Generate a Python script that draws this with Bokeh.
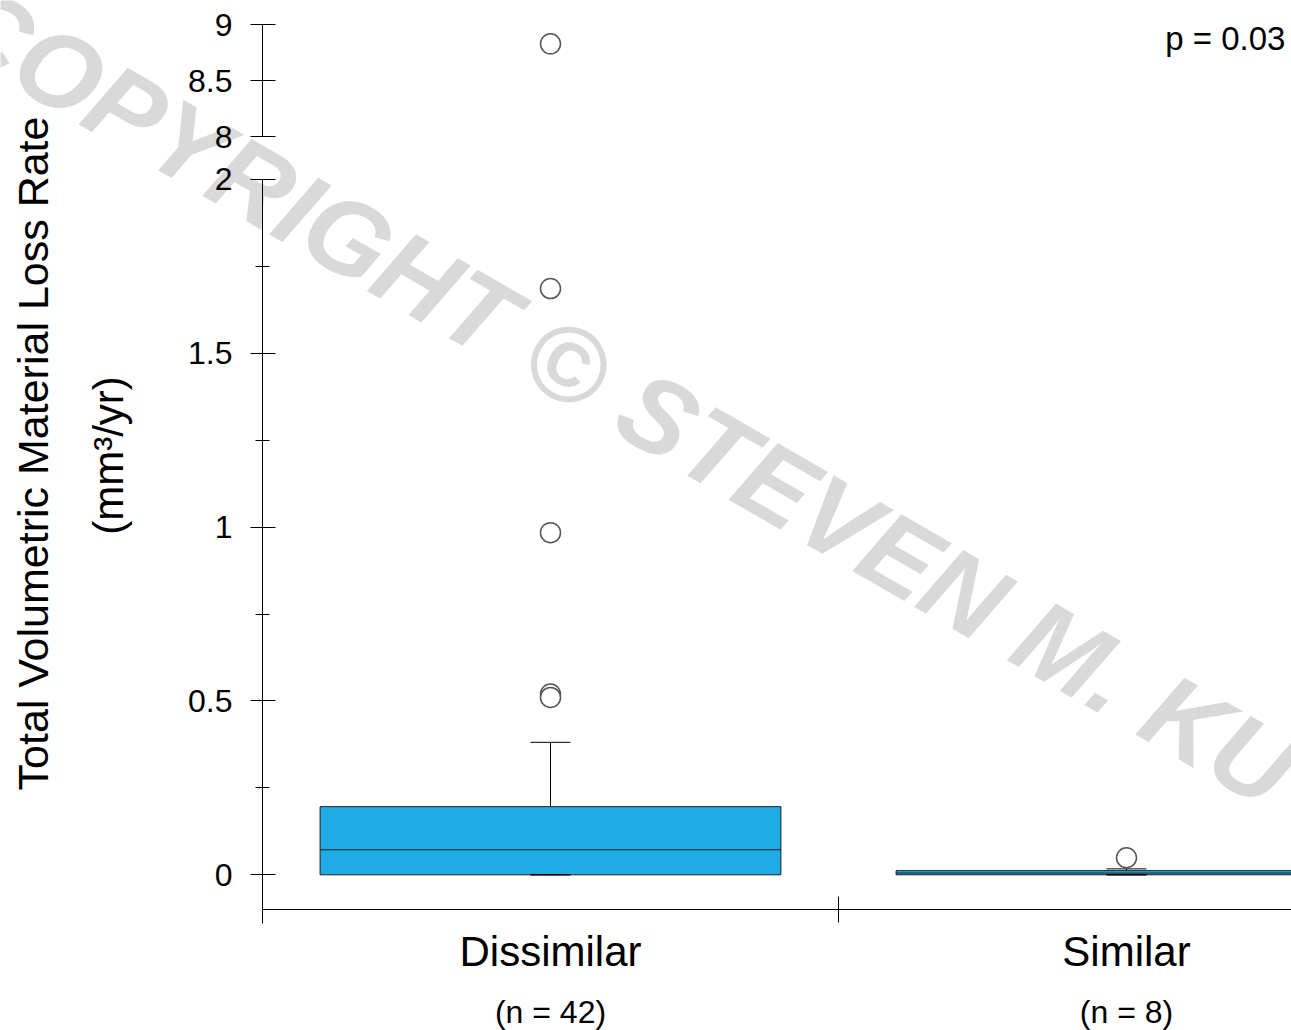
import math
from bokeh.plotting import figure
from bokeh.models import (Range1d, LinearAxis, FixedTicker, CustomJSTickFormatter,
                          Label, LabelSet, ColumnDataSource)
from bokeh.core.properties import value
from bokeh.embed import file_html
from bokeh.resources import INLINE

# ---------------- data ----------------
categories = ["Dissimilar", "Similar"]
n_labels = ["(n = 42)", "(n = 8)"]
cat_pos = [0.5, 1.5]
q1 = [0.0, 0.0]
medians = [0.072, 0.005]
q3 = [0.196, 0.012]
whisker_low = [0.0, 0.0]
whisker_high = [0.381, 0.017]
outlier_cat = ["Dissimilar", "Dissimilar", "Dissimilar", "Dissimilar", "Similar"]
outlier_val = [1.686, 0.984, 0.52, 0.51, 0.049]
upper_outlier_cat = ["Dissimilar"]
upper_outlier_val = [8.83]
lower_ticks = [0, 0.5, 1, 1.5, 2]
lower_minor_ticks = [0.25, 0.75, 1.25, 1.75]
upper_ticks = [8, 8.5, 9]
p_value_text = "p = 0.03"
y_title = "Total Volumetric Material Loss Rate"
y_units = "(mm³/yr)"
watermark = "COPYRIGHT © STEVEN M. KU"

# ---------------- style ----------------
FONT = "Liberation Sans"
BOX_FILL = "#1eabe6"
EDGE = "#1f1f1f"

pos = dict(zip(categories, cat_pos))

# The frame covers the whole canvas; axes are placed with fixed_location.
p = figure(width=1291, height=1030, output_backend="svg", toolbar_location=None,
           x_range=Range1d(-0.45486, 1.78646), y_range=Range1d(-0.4478, 2.51452),
           x_axis_type=None, y_axis_type=None,
           min_border_left=0, min_border_right=0, min_border_top=0,
           min_border_bottom=0, title=None)
p.extra_y_ranges = {"upper": Range1d(0.02054, 9.21696)}
p.outline_line_color = None
p.background_fill_color = "white"
p.border_fill_color = "white"

# watermark (under everything)
wm = Label(x=0.623, y=1.38, text=watermark, angle=-30, angle_units="deg",
           text_align="center", text_baseline="middle", text_font=FONT,
           text_font_style="bold italic", text_font_size="107px",
           text_color="#d9d9d9", level="underlay")
p.add_layout(wm)

# ---------------- axes ----------------
def style_axis(ax, size="32px"):
    ax.axis_line_color = "black"
    ax.axis_line_width = 1
    ax.major_tick_line_color = "black"
    ax.minor_tick_line_color = "black"
    ax.major_label_text_font = FONT
    ax.major_label_text_font_size = size
    ax.major_label_text_color = "black"

X_AXIS_AT = -0.1007   # lower-range value where the category axis sits

yax = LinearAxis(fixed_location=0,
                 ticker=FixedTicker(ticks=lower_ticks, minor_ticks=lower_minor_ticks),
                 formatter=CustomJSTickFormatter(code="return tick.toString()"),
                 bounds=(-0.1392, 2), major_tick_in=13, major_tick_out=12,
                 minor_tick_in=7, minor_tick_out=7, major_label_standoff=18)
style_axis(yax)
p.add_layout(yax, "left")

yax2 = LinearAxis(y_range_name="upper", fixed_location=0,
                  ticker=FixedTicker(ticks=upper_ticks, minor_ticks=[]),
                  formatter=CustomJSTickFormatter(code="return tick.toString()"),
                  bounds=(8, 9), major_tick_in=13, major_tick_out=12,
                  minor_tick_in=0, minor_tick_out=0, major_label_standoff=18)
style_axis(yax2)
p.add_layout(yax2, "left")

boundary = (cat_pos[0] + cat_pos[1]) / 2
xax = LinearAxis(fixed_location=X_AXIS_AT,
                 ticker=FixedTicker(ticks=cat_pos, minor_ticks=[boundary]),
                 formatter=CustomJSTickFormatter(args=dict(names=categories),
                                                 code="return names[index]"),
                 bounds=(0, 1.78646),
                 major_tick_in=0, major_tick_out=0,
                 minor_tick_in=13, minor_tick_out=13, major_label_standoff=5)
style_axis(xax, "42px")
p.add_layout(xax, "below")

# ---------------- boxes ----------------
src = ColumnDataSource(dict(
    x=cat_pos, q1=q1, q3=q3, med=medians, lo=whisker_low, hi=whisker_high,
    x0=[c - 0.4 for c in cat_pos], x1=[c + 0.4 for c in cat_pos]))

p.segment(x0="x", y0="q3", x1="x", y1="hi", source=src, line_color="black", line_width=1)
p.vbar(x="x", width=0.8, top="q3", bottom="q1", source=src,
       fill_color=BOX_FILL, line_color=EDGE, line_width=1)
p.segment(x0="x0", y0="med", x1="x1", y1="med", source=src, line_color=EDGE, line_width=1)
p.scatter(x="x", y="hi", source=src, marker="dash", size=40, line_color="black", line_width=1)
p.scatter(x="x", y="lo", source=src, marker="dash", size=40, line_color="black", line_width=1.5)

# outliers
out_src = ColumnDataSource(dict(x=[pos[c] for c in outlier_cat], y=outlier_val))
p.scatter(x="x", y="y", source=out_src, marker="circle", size=20,
          fill_color="white", line_color="#555555", line_width=1.5)
up_src = ColumnDataSource(dict(x=[pos[c] for c in upper_outlier_cat], y=upper_outlier_val))
p.scatter(x="x", y="y", source=up_src, marker="circle", size=20, y_range_name="upper",
          fill_color="white", line_color="#555555", line_width=1.5)

# ---------------- texts ----------------
n_src = ColumnDataSource(dict(x=cat_pos, y=[-0.3935] * len(cat_pos), text=n_labels))
p.add_layout(LabelSet(x="x", y="y", text="text", source=n_src, text_align="center",
                      text_baseline="middle", text_font=value(FONT),
                      text_font_size=value("32px"), text_color="black"))

p.add_layout(Label(x=-0.3976, y=1.2117, text=y_title, angle=90, angle_units="deg",
                   text_align="center", text_baseline="middle", text_font=FONT,
                   text_font_size="43px", text_color="black"))
p.add_layout(Label(x=-0.2674, y=1.206, text=y_units, angle=90, angle_units="deg",
                   text_align="center", text_baseline="middle", text_font=FONT,
                   text_font_size="42px", text_color="black"))

p.add_layout(Label(x=1.776, y=8.878, y_range_name="upper", text=p_value_text,
                   text_align="right", text_baseline="middle", text_font=FONT,
                   text_font_size="33px", text_color="black"))

open("out.html", "w").write(file_html(p, INLINE))
